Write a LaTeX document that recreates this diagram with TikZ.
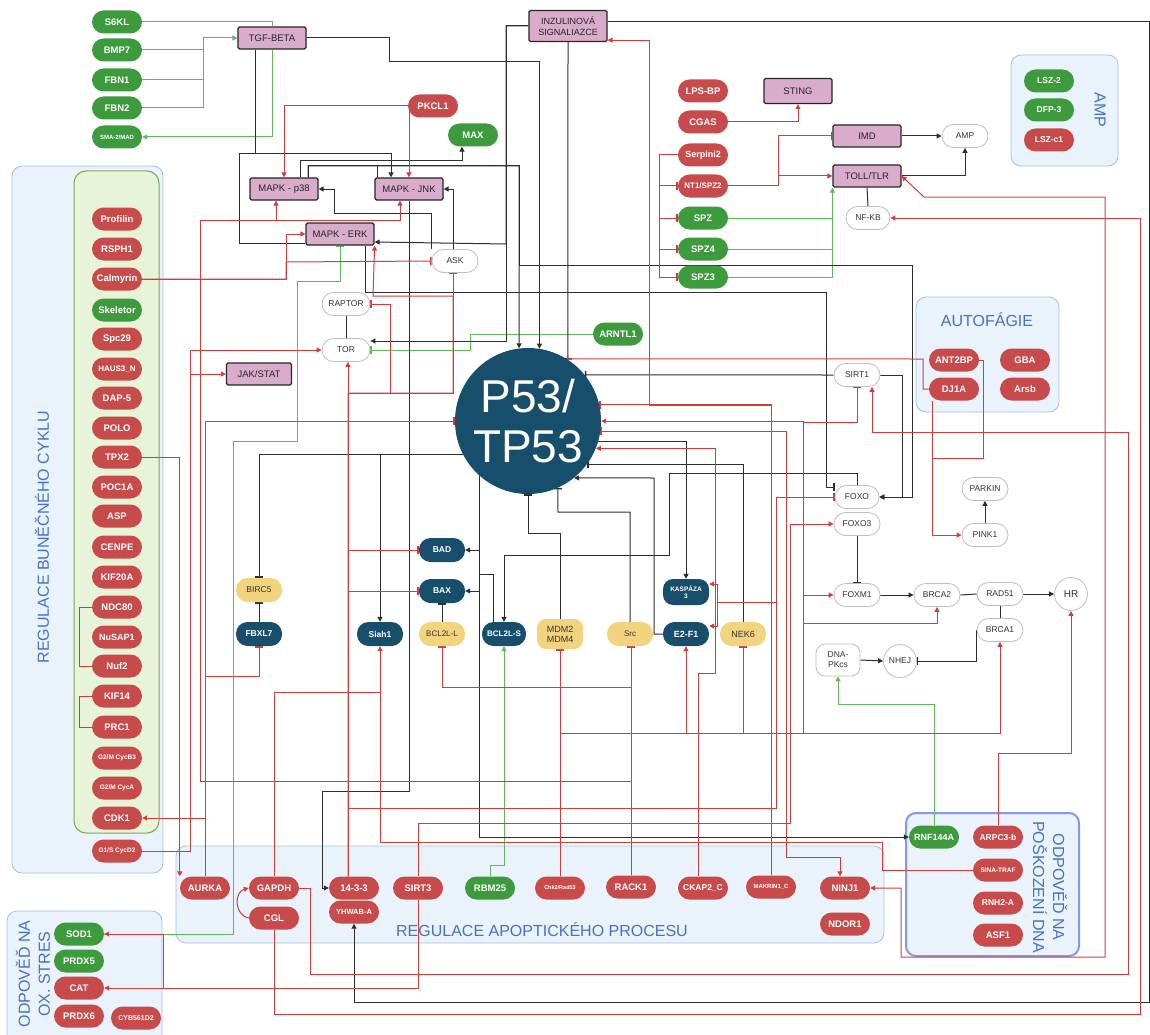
\documentclass[tikz,border=0pt]{standalone}
\usepackage{fontspec}
\setmainfont{Liberation Sans}
\usetikzlibrary{arrows.meta,calc}

\definecolor{pRed}{HTML}{C84B4B}
\definecolor{pGreen}{HTML}{3D9A3D}
\definecolor{pNavy}{HTML}{174E6B}
\definecolor{pYellow}{HTML}{F2D37E}
\definecolor{pPink}{HTML}{DAACCC}
\definecolor{lRed}{HTML}{D43C3C}
\definecolor{lGreen}{HTML}{62B95A}
\definecolor{lBlack}{HTML}{2E2E2E}
\definecolor{grpFill}{HTML}{EAF2FB}
\definecolor{grpLine}{HTML}{A6BFE6}
\definecolor{grpText}{HTML}{4472C4}
\definecolor{cellFill}{HTML}{E8F4D8}
\definecolor{cellLine}{HTML}{82A55A}

\newcommand{\fsz}[1]{\fontsize{#1}{#1}\selectfont}

\pgfdeclarelayer{boxes}
\pgfdeclarelayer{wires}
\pgfsetlayers{boxes,wires,main}

\begin{document}
\begin{tikzpicture}[x=1pt,y=-1pt,
  pill/.style={rounded corners=11.5pt,minimum width=50pt,minimum height=23pt,inner sep=1pt,font=\fsz{9.5}\bfseries,text=white},
  redp/.style={pill,fill=pRed},
  grnp/.style={pill,fill=pGreen},
  navp/.style={pill,fill=pNavy,minimum width=46pt,minimum height=24pt,font=\fsz{8.5}\bfseries},
  yelp/.style={pill,fill=pYellow,minimum width=46pt,minimum height=24pt,text=black!80,font=\fsz{8.5}},
  whp/.style={pill,fill=white,draw=black!25,line width=0.8pt,minimum width=46pt,text=black!80,font=\fsz{8.5}},
  pbox/.style={draw=black!85,line width=1.2pt,fill=pPink,minimum width=68pt,minimum height=22pt,rounded corners=1.5pt,inner sep=1pt,font=\fsz{9.5},text=black!85},
  grp/.style={draw=grpLine,fill=grpFill,rounded corners=10pt,line width=0.8pt},
  grptxt/.style={font=\fsz{16},text=grpText,align=center},
  rl/.style={draw=lRed,line width=1pt},
  gl/.style={draw=lGreen,line width=1pt},
  bl/.style={draw=lBlack,line width=1pt},
  ar/.style={-{Triangle[length=5pt,width=5pt]}},
  tb/.style={-{Bar[width=8pt,line width=1.5pt]}},
]
\useasboundingbox (0,0) rectangle (1150,1035);

% === group boxes ===
\begin{pgfonlayer}{boxes}
\fill[white] (0,0) rectangle (1150,1035);
\draw[grp] (12,166) rectangle (163,873);
\draw[fill=cellFill,draw=cellLine,line width=1pt,rounded corners=12pt] (74,171) rectangle (159,833);
\draw[grp] (176,846) rectangle (884,943);
\draw[grp,draw=grpLine!80!blue,line width=2pt] (906,813) rectangle (1079,956);
\draw[grp] (7,911) rectangle (162,1045);
\draw[grp] (1011,55) rectangle (1118,166);
\draw[grp] (916,297) rectangle (1059,412);
\node[grptxt,rotate=90] (lblcyc) at (42,537) {REGULACE BUNĚČNÉHO CYKLU};
\node[grptxt] (lblapo) at (542,930) {REGULACE APOPTICKÉHO PROCESU};
\node[grptxt] (lblaut) at (987,320) {AUTOFÁGIE};
\node[grptxt,rotate=-90] (lblamp) at (1100,110) {AMP};
\node[grptxt,rotate=-90,font=\fontsize{16}{20}\selectfont] (lbldna) at (1050,887) {ODPOVĚĎ NA\\POŠKOZENÍ DNA};
\node[grptxt,rotate=90,font=\fontsize{16}{20}\selectfont] (lblox) at (33,974) {ODPOVĚĎ NA\\OX. STRES};
\end{pgfonlayer}

% === top left ===
\node[grnp] (s6kl) at (117,22) {S6KL};
\node[grnp] (bmp7) at (117,50) {BMP7};
\node[grnp] (fbn1) at (117,80) {FBN1};
\node[grnp] (fbn2) at (117,108) {FBN2};
\node[grnp,font=\fsz{6}\bfseries] (sma) at (117,137) {SMA-2/MAD};

% pink boxes
\node[pbox] (tgf) at (272,38) {TGF-BETA};
\node[pbox,minimum width=78pt,minimum height=31pt,align=center,font=\fontsize{9}{10.5}\selectfont] (inz) at (568,26) {INZULINOVÁ\\SIGNALIAZCE};
\node[pbox] (p38) at (284,189) {MAPK - p38};
\node[pbox] (jnk) at (409,189) {MAPK - JNK};
\node[pbox] (erk) at (340,234) {MAPK - ERK};
\node[pbox,minimum width=65pt] (jak) at (259,374) {JAK/STAT};
\node[pbox,minimum height=25pt] (sting) at (798,91) {STING};
\node[pbox] (imd) at (867,136) {IMD};
\node[pbox] (toll) at (867,176) {TOLL/TLR};

% white nodes
\node[whp] (ask) at (455,261) {ASK};
\node[whp,minimum width=48pt] (raptor) at (346,304) {RAPTOR};
\node[whp,minimum width=48pt] (tor) at (346,350) {TOR};
\node[whp] (amp) at (965,136) {AMP};
\node[whp,minimum width=44pt] (nfkb) at (868,218) {NF-KB};
\node[whp] (sirt1) at (857,375) {SIRT1};
\node[whp,minimum width=44pt] (foxo) at (857,497) {FOXO};
\node[whp] (foxo3) at (857,524) {FOXO3};
\node[whp] (foxm1) at (857,595) {FOXM1};
\node[whp] (brca2) at (937,595) {BRCA2};
\node[whp] (rad51) at (1000,594) {RAD51};
\node[whp] (brca1) at (1000,630) {BRCA1};
\node[whp,circle,minimum size=33pt,font=\fsz{10}] (hr) at (1071,594) {HR};
\node[whp,circle,minimum size=33pt] (nhej) at (900,661) {NHEJ};
\node[whp,minimum width=44pt,minimum height=32pt,rounded corners=9pt,align=center,font=\fontsize{8.5}{10}\selectfont] (dnapk) at (838,660) {DNA-\\PKcs};
\node[whp] (parkin) at (985,489) {PARKIN};
\node[whp] (pink1) at (985,535) {PINK1};

% P53
\node[circle,fill=pNavy,minimum size=146pt,inner sep=0pt,text=white,align=center,font=\fontsize{46}{50}\selectfont] (p53) at (528,421) {P53/\\TP53};

% middle row
\node[yelp] (birc5) at (259,590) {BIRC5};
\node[navp] (fbxl7) at (259,634) {FBXL7};
\node[navp] (siah1) at (380,634) {Siah1};
\node[navp] (bad) at (442,550) {BAD};
\node[navp] (bax) at (442,591) {BAX};
\node[yelp,font=\fsz{8}] (bcl2ll) at (442,634) {BCL2L-L};
\node[navp,font=\fsz{8}\bfseries,minimum width=44pt] (bcl2ls) at (504,634) {BCL2L-S};
\node[yelp,minimum height=30pt,rounded corners=9pt,align=center,font=\fontsize{9}{10}\selectfont] (mdm2) at (560,634) {MDM2\\MDM4};
\node[yelp,font=\fsz{8}] (src) at (630,634) {Src};
\node[navp,font=\fsz{9}\bfseries] (e2f1) at (686,634) {E2-F1};
\node[navp,minimum height=26pt,rounded corners=10pt,align=center,font=\fontsize{6.5}{7.5}\selectfont\bfseries] (kasp) at (686,592) {KASPÁZA\\3};
\node[yelp,font=\fsz{9}] (nek6) at (743,634) {NEK6};

% top red / green
\node[redp] (pkcl1) at (433,106) {PKCL1};
\node[grnp] (max) at (473,135) {MAX};
\node[grnp] (arntl1) at (618,334) {ARNTL1};
\node[redp] (lpsbp) at (703,91) {LPS-BP};
\node[redp] (cgas) at (703,122) {CGAS};
\node[redp,font=\fsz{9}\bfseries] (serp) at (703,155) {Serpini2};
\node[redp,font=\fsz{8}\bfseries] (nt1) at (703,186) {NT1/SPZ2};
\node[grnp] (spz) at (703,218) {SPZ};
\node[grnp] (spz4) at (703,249) {SPZ4};
\node[grnp] (spz3) at (703,277) {SPZ3};

% AMP group
\node[grnp,font=\fsz{8.5}\bfseries] (lsz2) at (1049,81) {LSZ-2};
\node[grnp,font=\fsz{8.5}\bfseries] (dfp3) at (1049,110) {DFP-3};
\node[redp,font=\fsz{8.5}\bfseries] (lszc1) at (1049,140) {LSZ-c1};

% autophagy
\node[redp] (ant2bp) at (954,360) {ANT2BP};
\node[redp] (gba) at (1025,360) {GBA};
\node[redp] (dj1a) at (954,389) {DJ1A};
\node[redp] (arsb) at (1025,389) {Arsb};

% cell cycle column
\node[redp] (profilin) at (117,219) {Profilin};
\node[redp] (rsph1) at (117,249) {RSPH1};
\node[redp] (calmyrin) at (117,279) {Calmyrin};
\node[grnp] (skeletor) at (117,310) {Skeletor};
\node[redp] (spc29) at (117,339) {Spc29};
\node[redp,font=\fsz{8}\bfseries] (haus3) at (117,369) {HAUS3\_N};
\node[redp] (dap5) at (117,398) {DAP-5};
\node[redp] (polo) at (117,428) {POLO};
\node[redp] (tpx2) at (117,457) {TPX2};
\node[redp] (poc1a) at (117,487) {POC1A};
\node[redp] (asp) at (117,516) {ASP};
\node[redp] (cenpe) at (117,547) {CENPE};
\node[redp] (kif20a) at (117,577) {KIF20A};
\node[redp] (ndc80) at (117,607) {NDC80};
\node[redp,font=\fsz{9}\bfseries] (nusap1) at (117,637) {NuSAP1};
\node[redp] (nuf2) at (117,666) {Nuf2};
\node[redp] (kif14) at (117,696) {KIF14};
\node[redp] (prc1) at (117,727) {PRC1};
\node[redp,font=\fsz{6.5}\bfseries] (cycb3) at (117,758) {G2/M CycB3};
\node[redp,font=\fsz{6.5}\bfseries] (cyca) at (117,788) {G2/M CycA};
\node[redp] (cdk1) at (117,818) {CDK1};
\node[redp,font=\fsz{6.5}\bfseries] (cycd2) at (117,851) {G1/S CycD2};

% apoptosis row
\node[redp] (aurka) at (205,888) {AURKA};
\node[redp] (gapdh) at (274,888) {GAPDH};
\node[redp] (cgl) at (274,918) {CGL};
\node[redp] (h1433) at (354,888) {14-3-3};
\node[redp,font=\fsz{7.5}\bfseries] (yhwab) at (354,912) {YHWAB-A};
\node[redp] (sirt3) at (418,888) {SIRT3};
\node[grnp] (rbm25) at (490,888) {RBM25};
\node[redp,font=\fsz{5.5}\bfseries] (chk2) at (560,888) {Chk2/Rad53};
\node[redp] (rack1) at (631,887) {RACK1};
\node[redp,font=\fsz{8.5}\bfseries] (ckap2) at (703,888) {CKAP2\_C};
\node[redp,font=\fsz{6}\bfseries] (makrin) at (771,887) {MAKRIN1\_C};
\node[redp] (ninj1) at (845,888) {NINJ1};
\node[redp] (ndor1) at (845,924) {NDOR1};

% DNA damage
\node[grnp,font=\fsz{9}\bfseries] (rnf144a) at (934,837) {RNF144A};
\node[redp,font=\fsz{8.5}\bfseries] (arpc3) at (998,837) {ARPC3-b};
\node[redp,font=\fsz{6.5}\bfseries] (sina) at (998,870) {SINA-TRAF};
\node[redp,font=\fsz{8.5}\bfseries] (rnh2a) at (998,903) {RNH2-A};
\node[redp] (asf1) at (998,935) {ASF1};

% ox. stress
\node[grnp] (sod1) at (79,934) {SOD1};
\node[grnp] (prdx5) at (79,961) {PRDX5};
\node[redp] (cat) at (79,988) {CAT};
\node[redp] (prdx6) at (79,1016) {PRDX6};
\node[redp,font=\fsz{7}\bfseries] (cyb561) at (136,1018) {CYB561D2};

\coordinate (h1433up) at ($(h1433.north)+(-6,0)$);

\begin{pgfonlayer}{wires}
% === green ===
\draw[gl] (s6kl.east) -| (tgf.north);
\draw[gl] (bmp7.east) -- (203,50);
\draw[gl] (fbn1.east) -- (203,80);
\draw[gl,ar] (fbn2.east) -- (203,108) |- (tgf.west);
\draw[gl,ar] (tgf.south) |- (sma.east);
\draw[gl,tb] (sod1.east) -| (233,441) -| (297,281) -| (erk.south);
\draw[gl,tb] (arntl1.west) -| (470,350) -- (tor.east);
\draw[gl] (spz.east) -- (833,218);
\draw[gl] (spz4.east) -- (833,249);
\draw[gl,ar] (spz3.east) -| (toll.south west);
\draw[gl,ar] (rbm25.north) |- (504,865) -- (bcl2ls.south);
\draw[gl,ar] (rnf144a.north) |- (838,704) -- (dnapk.south);

% === black ===
\draw[bl,ar] (tgf.east) -| (389,62) -| (p53.81);
\draw[bl] ($(tgf.south)+(-17,0)$) |- (239,154) |- ($(erk.west)+(0,9)$);
\draw[bl,ar] ($(tgf.south)+(-17,0)$) |- ($(jnk.north)+(-18,-24)$) -- ($(jnk.north)+(-18,0)$);
\draw[bl,ar] ($(p38.north)+(16,0)$) |- ($(max.south)+(-11,14)$) -- ($(max.south)+(-11,0)$);
\draw[bl,ar] ($(p38.north)+(24,0)$) |- (519,166) -- (p53.97);
\draw[bl,ar] ($(p38.north)+(24,0)$) |- (519,166) |- (912,265) |- (foxo.east);
\draw[bl] ($(jnk.north)+(-32,0)$) -- ++(0,-12);
\draw[bl,ar] ($(ask.north)+(-2,0)$) |- (jnk.east);
\draw[bl,ar] ($(ask.north)+(-24,0)$) |- (334,213) |- (p38.east);
\draw[bl,ar] (inz.west) -| (506,244) -- ($(erk.east)+(0,8)$);
\draw[bl,ar] (inz.west) -| (506,341) -- ($(tor.east)+(0,-9)$);
\draw[bl,tb] (inz.south) -- (p53.57);
\draw[bl,ar] ($(inz.east)+(0,-4)$) -| (1149,1002) -| (yhwab.south);
\draw[bl,tb] ($(erk.south)+(25,0)$) |- (826,292) |- ($(foxo.west)+(0,-10)$);
\draw[bl,ar] (sirt1.east) -| (902,497) -- (foxo.east);
\draw[bl,tb] (sirt1.west) -- (p53.39);
\draw[bl,ar] (foxo.north) |- (669,473) |- (504,555) -- (bcl2ls.north);
\draw[bl,ar] (p53.344) -| (kasp.north);
\draw[bl,tb] (nek6.north) |- (p53.324);
\draw[bl,ar] (e2f1.west) -| (654,478) -- (p53.309);
\draw[bl,tb] (src.north) |- (558,512) -- (p53.294);
\draw[bl,tb] (mdm2.north) |- (528,533) -- (p53.south);
\draw[bl,ar] (p53.228) |- (bad.east);
\draw[bl,ar] (p53.228) |- (bax.east);
\draw[bl,ar] (p53.228) |- (rnf144a.west);
\draw[bl] (p53.228) |- (493,574) -- ($(bcl2ls.north)+(-11,0)$);
\draw[bl,tb] (p53.207) -| (birc5.north);
\draw[bl,ar] (p53.207) -| (siah1.north);
\draw[bl,tb] (fbxl7.north) -- (birc5.south);
\draw[bl,tb] (bcl2ll.north) -- (bax.south);
\draw[bl,ar] (jnk.south) |- (322,791) |- (h1433.west);
\draw[bl] (raptor.south) -- (tor.north);
\draw[bl,tb] (foxo3.south) -- (foxm1.north);
\draw[bl,ar] (foxm1.east) -- (brca2.west);
\draw[bl] (brca2.east) -- (rad51.west);
\draw[bl,ar] (rad51.east) -- (hr.west);
\draw[bl] (rad51.south) -- (brca1.north);
\draw[bl,ar] (dnapk.east) -- (nhej.west);
\draw[bl,tb] (brca1.west) |- (nhej.east);
\draw[bl,ar] (pink1.north) -- (parkin.south);
\draw[bl,ar] (imd.east) -- (amp.west);
\draw[bl,ar] (toll.east) -| (amp.south);
\draw[bl] (toll.south) -- (nfkb.north);

% === red ===
\draw[rl,ar] (cgas.east) -| (sting.south);
\foreach \tgt in {nt1,spz,spz4,spz3}{
  \draw[rl,tb] (serp.west) -- (659,155) |- (\tgt.west);
}
\draw[rl,ar] (nt1.east) -| (778,176) -- (toll.west);
\draw[rl,tb] (nt1.east) -| (778,136) -- (imd.west);
\draw[rl,ar] (pkcl1.west) -| (p38.north);
\draw[rl,ar] (pkcl1.west) -| (jnk.north);
\draw[rl,ar] (calmyrin.east) -| (286,234) -- (erk.west);
\draw[rl,tb] (calmyrin.east) -| (286,262) -- (ask.west);
\draw[rl,ar] (rack1.north) |- (200,781) |- (276,220) -- ($(p38.south)+(-8,0)$);
\draw[rl,ar] (rack1.north) |- (200,781) |- (400,220) -- ($(jnk.south)+(-9,0)$);
\draw[rl,tb] (rack1.north) -- (rack1.north |- src.south);
\draw[rl,tb] (rack1.north) |- (442,687) -- (bcl2ll.south);
\draw[rl,ar] (tpx2.east) -| (aurka.north west);
\draw[rl,ar] (aurka.north) |- (cdk1.east);
\draw[rl,tb] (aurka.north) |- (259,676) -- (fbxl7.south);
\draw[rl,tb] (aurka.north) |- (p53.west);
\draw[rl,ar] (cycd2.east) -| (190,350) -- (tor.west);
\draw[rl,ar] (cycd2.east) -| (190,374) -- (jak.west);
\draw[rl] (ndc80.west) -- (79,607) |- (nuf2.west);
\draw[rl] (kif14.west) -- (79,696) |- (prc1.west);
% 14-3-3
\draw[rl,ar] (h1433up) -- (h1433up |- tor.south);
\draw[rl,tb] (h1433up) |- (bad.west);
\draw[rl,tb] (h1433up) |- (bax.west);
\draw[rl,tb] (h1433up) |- (453,393) -- ($(ask.south)+(-2,0)$);
\draw[rl,tb] (h1433up) |- (390,393) |- (raptor.east);
\draw[rl,ar] (h1433up) |- (453,393) |- (373,296) -- (erk.south east);
\draw[rl,tb] (h1433up) |- (776,808) |- (foxo.west);
\draw[rl,ar] (h1433up) |- (776,808) |- (717,602) |- ($(kasp.east)+(0,-8)$);
\draw[rl,ar] (h1433up) |- (776,808) |- (717,602) |- ($(e2f1.east)+(0,-8)$);
% GAPDH, CGL, SIRT3
\draw[rl,ar] (gapdh.north) |- (380,692) -- (siah1.south);
\draw[rl] (gapdh.north) |- (380,692) |- (882,842) |- (sina.west);
\draw[rl,ar] (gapdh.east) -| (310,974) -| (1128,432) -| ($(sirt1.south)+(15,0)$);
\draw[rl,ar] (cgl.west) .. controls (234,915) and (234,892) .. (gapdh.west);
\draw[rl,ar] (cgl.south) |- (1140,1014) |- (nfkb.east);
\draw[rl,ar] (sirt3.south) |- (cat.east);
\draw[rl,ar] (sirt3.south) |- (163,988) |- (sod1.east);
\draw[rl,ar] (sirt3.north) |- (790,823) |- (foxo3.west);
% MAKRIN1_C, Chk2, CKAP2_C, NINJ1
\draw[rl,tb] (makrin.north) |- (p53.13);
\draw[rl,ar] (makrin.north) |- (649,405) |- ($(inz.south east)+(0,-2)$);
\draw[rl,tb] (chk2.north) -- (mdm2.south);
\draw[rl,ar] (chk2.north) |- (686,733) -- (e2f1.south);
\draw[rl,tb] (chk2.north) |- (743,733) -- (nek6.south);
\draw[rl,ar] (chk2.north) |- (803,733) |- (p53.east);
\draw[rl,tb] (chk2.north) |- (803,733) |- (857,422) -- (sirt1.south);
\draw[rl,ar] (chk2.north) |- (803,733) |- (foxm1.west);
\draw[rl,ar] (chk2.north) |- (803,733) |- (937,623) -- (brca2.south);
\draw[rl,ar] (chk2.north) |- (1000,733) -- (brca1.south);
\draw[rl,ar] ($(ckap2.north)+(-5,0)$) |- (715,673) |- (p53.338);
\draw[rl,{Triangle[length=5pt,width=5pt]}-{Bar[width=8pt,line width=1.5pt]}] ($(ninj1.north)+(-5,0)$) |- (786,857) |- (p53.352);
\draw[rl,{Triangle[length=5pt,width=5pt]}-{Triangle[length=5pt,width=5pt]}] (ninj1.east) -| (901,957) -| (1105,197) -- (924,197) -- (toll.east);
% autophagy, DNA
\draw[rl,tb] (dj1a.west) -| (923,359) -- (p53.58);
\draw[rl,ar] ($(dj1a.south)+(-22,0)$) |- (pink1.west);
\draw[rl] (ant2bp.east) -| (983,458) -| ($(dj1a.south)+(-22,0)$);
\draw[rl,ar] (arpc3.north) |- (1071,753) -- (hr.south);
\end{pgfonlayer}

\end{tikzpicture}
\end{document}
